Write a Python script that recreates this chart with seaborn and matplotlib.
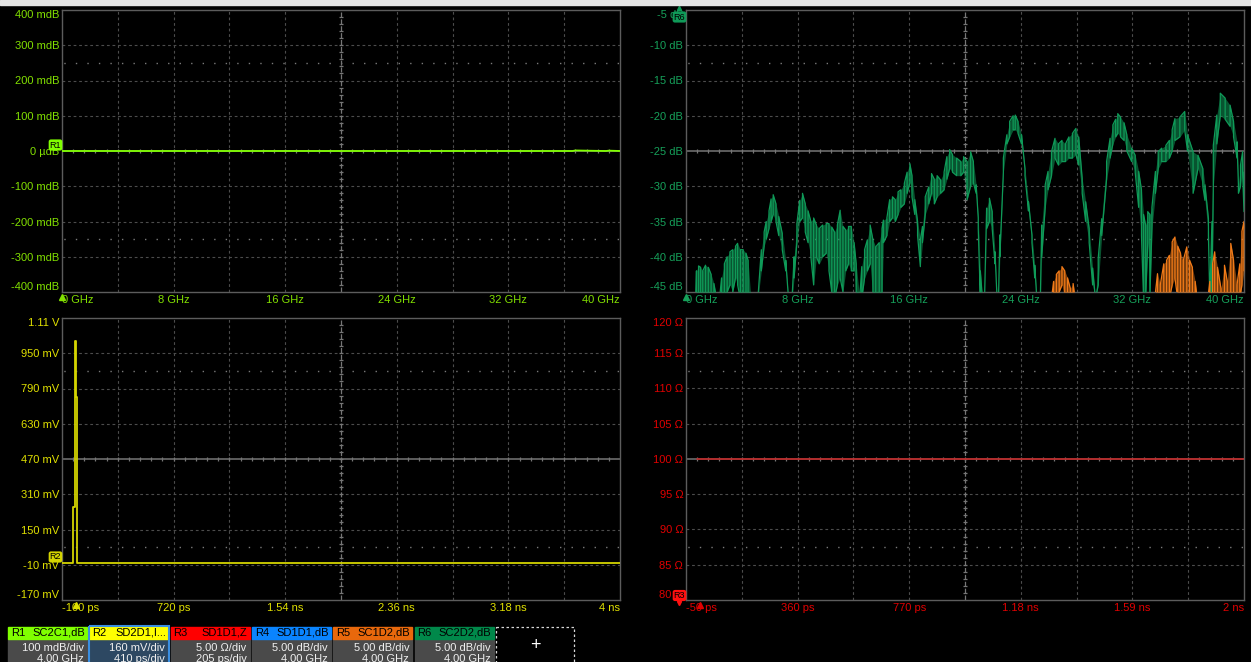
import numpy as np
import pandas as pd
import matplotlib
matplotlib.use("Agg")
import matplotlib.pyplot as plt
import seaborn as sns
from matplotlib import font_manager
from matplotlib.patches import Rectangle
from matplotlib.transforms import blended_transform_factory

# ---------------------------------------------------------------- data
# R1: SC2C1 (dB) vs frequency, GHz / mdB
r1_freq = [0.0, 10.0, 20.0, 30.0, 36.6, 36.8, 39.0, 39.2, 40.0]
r1_mdb = [0.0, 0.0, 0.0, 0.0, 0.0, 1.5, 0.0, 1.0, 0.0]

# R6: SC2D2 (dB) vs frequency -- per-column max / min of the acquired trace
r6_freq = [0.70, 0.75, 0.90, 1.05, 1.20, 1.40, 1.60, 1.80, 2.00, 2.20, 2.40, 2.55, 2.75, 2.95,
           3.15, 3.35, 3.55, 3.70, 3.90, 4.10, 4.30, 4.45, 4.65, 4.90, 5.15, 5.40, 5.60, 5.75,
           5.95, 6.10, 6.25, 6.45, 6.65, 6.90, 7.15, 7.35, 7.60, 7.75, 7.95, 8.15, 8.35, 8.55,
           8.75, 8.95, 9.15, 9.35, 9.55, 9.80, 10.05, 10.25, 10.45, 10.65, 10.85, 11.05, 11.25,
           11.45, 11.65, 11.85, 12.05, 12.20, 12.45, 12.60, 12.80, 13.00, 13.20, 13.40, 13.60,
           13.85, 14.05, 14.15, 14.40, 14.60, 14.80, 15.00, 15.20, 15.40, 15.65, 15.85, 16.05,
           16.20, 16.40, 16.60, 16.80, 16.95, 17.15, 17.40, 17.60, 17.80, 18.00, 18.25, 18.50,
           18.70, 18.90, 19.10, 19.40, 19.70, 19.90, 20.15, 20.40, 20.60, 20.80, 20.95, 21.10,
           21.25, 21.40, 21.55, 21.75, 21.95, 22.15, 22.30, 22.40, 22.50, 22.75, 23.00, 23.20,
           23.45, 23.60, 23.80, 24.05, 24.30, 24.55, 24.80, 25.00, 25.15, 25.40, 25.50, 25.75,
           25.95, 26.20, 26.45, 26.70, 26.95, 27.20, 27.45, 27.70, 27.95, 28.15, 28.40, 28.65,
           28.90, 29.15, 29.35, 29.55, 29.80, 30.15, 30.40, 30.60, 30.80, 30.95, 31.15, 31.40,
           31.60, 31.95, 32.20, 32.45, 32.65, 32.80, 32.95, 33.10, 33.25, 33.40, 33.65, 33.85,
           34.10, 34.40, 34.65, 34.85, 35.05, 35.40, 35.75, 35.95, 36.35, 36.70, 37.05, 37.20,
           37.45, 37.55, 37.70, 37.80, 38.05, 38.30, 38.65, 39.00, 39.25, 39.50, 39.60, 39.75,
           39.90, 40.00]
r6_hi = [-46, -42.0, -41.3, -41.5, -42.0, -41.2, -41.5, -42.5, -43.8, -46, -46, -43.0, -41.0, -40.0,
         -39.3, -39.0, -38.5, -38.1, -39.0, -39.0, -39.5, -40.5, -46, -46, -46, -39.0, -36.5, -35.0,
         -33.5, -31.8, -31.2, -32.5, -34.3, -36.7, -40.5, -46, -46, -40.0, -35.3, -32.0, -31.0, -32.5,
         -33.5, -35.0, -34.5, -35.5, -36.0, -35.5, -35.3, -35.3, -35.8, -36.5, -35.5, -33.4, -35.7,
         -36.2, -35.7, -35.7, -38.0, -41.0, -46, -41.4, -39.0, -37.6, -35.5, -37.6, -38.6,
         -38.0, -36.0, -34.8, -34.5, -31.9, -31.5, -31.9, -30.8, -30.5, -29.6, -28.0, -26.8,
         -28.5, -31.9, -35.0, -37.6, -35.7, -31.5, -30.1, -28.2, -29.0, -28.5, -29.1, -28.0,
         -25.8, -24.8, -25.5, -26.0, -26.5, -25.8, -26.5, -25.1, -26.5, -29.8, -34.5, -42.0,
         -46, -46, -33.1, -31.7, -33.6, -39.3, -46, -46, -36.9, -26.0, -22.7, -20.8,
         -20.0, -19.9, -20.8, -22.7, -27.5, -32.2, -36.9, -41.2, -46, -46, -35.5, -29.8,
         -27.9, -25.1, -23.2, -24.0, -23.5, -24.0, -23.0, -22.5, -21.8, -23.0, -28.9, -32.2,
         -36.0, -41.6, -46, -40.2, -34.6, -26.5, -23.2, -21.3, -20.5, -19.7, -20.2, -21.0,
         -22.7, -24.6, -25.6, -27.9, -30.5, -34.0, -35.5, -33.6, -34.0, -33.0, -27.9, -25.1,
         -24.6, -24.2, -23.5, -22.0, -20.4, -20.2, -19.4, -22.7, -25.1, -25.6, -27.5, -29.8,
         -34.6, -46, -35.0, -24.2, -19.9, -16.8, -17.5, -18.5, -20.8, -23.7, -29.8, -27.0,
         -25.1, -28.0]
r6_lo = [-46, -46, -45, -46, -45, -46, -45.5, -46, -46, -46, -46, -46, -46, -45,
         -44, -45, -43, -44, -46, -45, -46, -46, -46, -46, -46, -42, -38.5, -37.5,
         -36, -35, -34, -35, -37, -39, -42, -46, -46, -43, -38, -35, -34.5, -36.5,
         -38, -40, -44, -40, -41, -40, -39.5, -42, -45, -46, -44, -43, -45,
         -42, -41, -42, -42, -46, -46, -46, -43, -42, -41, -46, -46,
         -46, -46, -38, -37, -35, -34.5, -35, -34, -33, -32.5, -31, -29.5,
         -31.5, -34, -37, -41.4, -38, -34, -32.5, -31, -32.5, -31.5, -31, -30.5,
         -29, -27.5, -28, -28.5, -28.5, -28, -31.9, -30, -29.5, -31, -36, -46,
         -46, -46, -36, -35, -36, -41, -46, -46, -40, -28, -24, -23,
         -22, -22, -22.5, -24, -28.5, -33.5, -38, -43, -46, -46, -40, -33,
         -30.5, -28.5, -26, -27, -26.5, -26.5, -26, -26, -25.5, -27, -31, -35,
         -38, -44, -46, -44, -37, -29, -26, -24, -23, -22.5, -23, -23.5,
         -25, -26.5, -28, -33, -37, -46, -46, -38, -46, -36, -31, -27.5,
         -26.5, -26.5, -26, -25, -23.5, -23, -22, -25, -31, -27.5, -30, -32,
         -37, -46, -46, -30, -24, -20, -20.5, -21.5, -23, -26, -31, -30,
         -28, -33.6]

# R5: SC1D2 (dB) vs frequency, max / min per column (only where above -45 dB)
r5_freq = [26.20, 26.35, 26.55, 26.75, 26.95, 27.15, 27.35, 27.55, 27.75, 27.90,
           33.60, 33.80, 34.00, 34.25, 34.45, 34.65, 34.85, 35.05, 35.25, 35.45, 35.65,
           35.90, 36.10, 36.30, 36.50, 36.65, 37.40, 37.55, 37.75, 37.90, 38.10, 38.35,
           38.60, 38.80, 39.05, 39.25, 39.50, 39.70, 39.85, 40.00]
r5_hi = [-46, -43.5, -42.5, -42.0, -41.4, -42.0, -43.0, -44.5, -43.8, -46,
         -46, -42.4, -44.0, -41.0, -40.5, -39.8, -37.9, -37.2, -38.5, -39.5, -40.5,
         -38.6, -40.5, -41.5, -43.5, -46, -46, -43.5, -41.0, -39.3, -41.5, -44.5,
         -41.2, -43.5, -38.1, -40.5, -44.0, -41.0, -36.4, -35.0]
r5_lo = [-46, -46, -46, -45, -44, -46, -46, -46, -46, -46,
         -46, -46, -46, -46, -46, -46, -44, -43, -46, -45, -46,
         -46, -46, -46, -46, -46, -46, -46, -46, -46, -46, -46,
         -46, -46, -46, -46, -46, -46, -44, -42]

# R2: SD2D1 impulse (mV) vs time (ps)
r2_time = [-100, -17, -7, -2, 3, 8, 12, 4000]
r2_mv = [-2, 250, 750, 1005, 750, 250, -2, -2]

# R3: SD1D1 impedance (ohm) vs time (ps)
r3_time = [-10, 2000]
r3_ohm = [100.0, 100.0]

# axis labels
tl_xlabels = ["0 GHz", "8 GHz", "16 GHz", "24 GHz", "32 GHz", "40 GHz"]
tl_ylabels = ["-400 mdB", "-300 mdB", "-200 mdB", "-100 mdB", "0 µdB",
              "100 mdB", "200 mdB", "300 mdB", "400 mdB"]
tr_ylabels = ["-45 dB", "-40 dB", "-35 dB", "-30 dB", "-25 dB",
              "-20 dB", "-15 dB", "-10 dB", "-5 dB"]
bl_xlabels = ["-100 ps", "720 ps", "1.54 ns", "2.36 ns", "3.18 ns", "4 ns"]
bl_ylabels = ["-170 mV", "-10 mV", "150 mV", "310 mV", "470 mV",
              "630 mV", "790 mV", "950 mV", "1.11 V"]
br_xlabels = ["-50 ps", "360 ps", "770 ps", "1.18 ns", "1.59 ns", "2 ns"]
br_ylabels = ["80 Ω", "85 Ω", "90 Ω", "95 Ω", "100 Ω",
              "105 Ω", "110 Ω", "115 Ω", "120 Ω"]

# channel descriptor boxes
chan_ids = ["R1", "R2", "R3", "R4", "R5", "R6"]
chan_names = ["SC2C1,dB", "SD2D1,I...", "SD1D1,Z", "SD1D1,dB", "SC1D2,dB", "SC2D2,dB"]
chan_vscale = ["100 mdB/div", "160 mV/div", "5.00 Ω/div", "5.00 dB/div", "5.00 dB/div", "5.00 dB/div"]
chan_hscale = ["4.00 GHz", "410 ps/div", "205 ps/div", "4.00 GHz", "4.00 GHz", "4.00 GHz"]
chan_colors = ["#80ff00", "#ffff00", "#ff0000", "#0a84ff", "#e8680c", "#00884a"]

# ---------------------------------------------------------------- style
sns.set_theme(style="dark", rc={"axes.facecolor": "black", "figure.facecolor": "black",
                                "axes.grid": False})
_avail = {f.name for f in font_manager.fontManager.ttflist}
FONT = next(f for f in ["Liberation Sans Narrow", "DejaVu Sans Condensed",
                        "Liberation Sans", "DejaVu Sans"] if f in _avail)
plt.rcParams["font.family"] = [FONT, "DejaVu Sans"]

W, H = 1251, 662
GRID = "#4c4c4c"
CENTRE = "#767676"
SPINE = "#5c5c5c"

C_R1_TXT, C_R1 = "#82e000", "#80ff00"
C_R6_TXT, C_R6 = "#16a05a", "#0f9a58"
C_R5 = "#f07a18"
C_R2_TXT, C_R2 = "#e0e000", "#d4d400"
C_R3_TXT, C_R3 = "#e00000", "#c82020"

fig = plt.figure(figsize=(W / 100, H / 100), dpi=100, facecolor="black")


def panel(left, top, right, bottom):
    return fig.add_axes([left / W, 1 - bottom / H, (right - left) / W, (bottom - top) / H])


def setup(ax, xlim, ylim, xlabels, ylabels, tcolor):
    ax.set_facecolor("black")
    ax.set_xlim(*xlim)
    ax.set_ylim(*ylim)
    ax.set_autoscale_on(False)
    xdiv = np.linspace(xlim[0], xlim[1], 11)
    ydiv = np.linspace(ylim[0], ylim[1], 9)
    dash = (0, (2.5, 2.5))
    for i, xv in enumerate(xdiv[1:-1], start=1):
        if i != 5:
            ax.axvline(xv, color=GRID, lw=0.8, ls=dash, zorder=1)
    for j, yv in enumerate(ydiv[1:-1], start=1):
        if j != 4:
            ax.axhline(yv, color=GRID, lw=0.8, ls=dash, zorder=1)
    ystep = ydiv[1] - ydiv[0]
    for yv in (ylim[0] + 1.5 * ystep, ylim[1] - 1.5 * ystep):
        ax.axhline(yv, color="#7a7a7a", lw=1.0, ls=(7, (1, 7.3)), zorder=1)
    # centre cross with fifth-of-division ticks
    xc, yc = xdiv[5], ydiv[4]
    ax.axvline(xc, color=CENTRE, lw=0.9, ls=(0, (4, 1.5)), zorder=1.2)
    ax.axhline(yc, color=CENTRE, lw=1.1, zorder=1.2)
    xt = np.linspace(xlim[0], xlim[1], 51)[1:-1]
    yt = np.linspace(ylim[0], ylim[1], 41)[1:-1]
    hy = (ylim[1] - ylim[0]) * 2.2 / 282
    hx = (xlim[1] - xlim[0]) * 2.2 / 558
    ax.vlines(xt, yc - hy, yc + hy, color=CENTRE, lw=0.9, zorder=1.2)
    ax.hlines(yt, xc - hx, xc + hx, color=CENTRE, lw=0.9, zorder=1.2)
    for s in ax.spines.values():
        s.set_color(SPINE)
        s.set_linewidth(1.0)
        s.set_visible(True)
    ax.set_xticks(xdiv[::2])
    ax.set_xticklabels(xlabels)
    ax.set_yticks(ydiv)
    ax.set_yticklabels(ylabels)
    ax.tick_params(axis="both", which="both", length=0, labelsize=8,
                   labelcolor=tcolor, pad=2)
    xl = ax.get_xticklabels()
    xl[0].set_ha("left")
    xl[-1].set_ha("right")
    yl = ax.get_yticklabels()
    yl[0].set_va("bottom")
    yl[-1].set_va("top")


def trig(ax, color):
    tr = blended_transform_factory(ax.transData, ax.transAxes)
    ax.plot([0], [-0.018], transform=tr, marker="^", ms=5, color=color,
            clip_on=False, zorder=6)


def tag(ax, text, level, color, dy_px):
    ax.annotate(text, xy=(0, level), xycoords=("axes fraction", "data"),
                xytext=(-6.5 * 0.72, dy_px * 0.72), textcoords="offset points",
                ha="center", va="center", fontsize=6.5, color="black",
                bbox=dict(boxstyle="round,pad=0.12,rounding_size=0.25", fc=color, ec="none"),
                annotation_clip=False, zorder=8)


def envelope(freq, hi, lo):
    f = np.repeat(np.asarray(freq, float), 2)
    v = []
    for k, (h, l) in enumerate(zip(hi, lo)):
        v.extend([l, h] if k % 2 == 0 else [h, l])
    return pd.DataFrame({"x": f, "y": v})


# ---- top left: R1
ax_tl = panel(62, 10, 620, 292)
setup(ax_tl, (0, 40), (-400, 400), tl_xlabels, tl_ylabels, C_R1_TXT)
sns.lineplot(x=r1_freq, y=r1_mdb, ax=ax_tl, color=C_R1, lw=1.3, sort=False,
             estimator=None, zorder=4)
trig(ax_tl, C_R1_TXT)
tag(ax_tl, "R1", 0, C_R1, 6)

# ---- top right: R6 and R5 (min/max band plus the zig-zag trace)
ax_tr = panel(686, 10, 1244, 292)
setup(ax_tr, (0, 40), (-45, -5), tl_xlabels, tr_ylabels, C_R6_TXT)
ax_tr.fill_between(r6_freq, r6_lo, r6_hi, color=C_R6, alpha=0.55, lw=0, zorder=3)
sns.lineplot(data=envelope(r6_freq, r6_hi, r6_lo), x="x", y="y", ax=ax_tr, color=C_R6,
             lw=0.9, sort=False, estimator=None, zorder=4)
ax_tr.fill_between(r5_freq, r5_lo, r5_hi, color=C_R5, alpha=0.5, lw=0, zorder=3)
sns.lineplot(data=envelope(r5_freq, r5_hi, r5_lo), x="x", y="y", ax=ax_tr, color=C_R5,
             lw=0.9, sort=False, estimator=None, zorder=4)
trig(ax_tr, C_R6_TXT)
tag(ax_tr, "R6", -5, C_R6, -7)
tr6 = blended_transform_factory(ax_tr.transAxes, ax_tr.transAxes)
ax_tr.plot([-0.0125], [1.006], transform=tr6, marker="^", ms=3, color=C_R6,
           clip_on=False, zorder=8)

# ---- bottom left: R2
ax_bl = panel(62, 318, 620, 600)
setup(ax_bl, (-100, 4000), (-170, 1110), bl_xlabels, bl_ylabels, C_R2_TXT)
sns.lineplot(x=r2_time, y=r2_mv, ax=ax_bl, color=C_R2, lw=1.3, sort=False,
             estimator=None, drawstyle="steps-post", zorder=4)
trig(ax_bl, C_R2_TXT)
tag(ax_bl, "R2", -2, C_R2, 6)

# ---- bottom right: R3
ax_br = panel(686, 318, 1244, 600)
setup(ax_br, (-50, 2000), (80, 120), br_xlabels, br_ylabels, C_R3_TXT)
sns.lineplot(x=r3_time, y=r3_ohm, ax=ax_br, color=C_R3, lw=1.1, sort=False,
             estimator=None, zorder=4)
trig(ax_br, C_R3_TXT)
tag(ax_br, "R3", 80, "#ff1010", 4.5)
tr3 = blended_transform_factory(ax_br.transAxes, ax_br.transAxes)
ax_br.plot([-0.0125], [-0.012], transform=tr3, marker="v", ms=3, color="#ff1010",
           clip_on=False, zorder=8)

# no axis titles and no legends on the scope panes
for a in (ax_tl, ax_tr, ax_bl, ax_br):
    a.set_xlabel("")
    a.set_ylabel("")
    leg = a.get_legend()
    if leg is not None:
        leg.remove()

# ---- overlay: title strip and channel descriptor bar
ov = fig.add_axes([0, 0, 1, 1])
ov.set_xlim(0, W)
ov.set_ylim(H, 0)
ov.axis("off")
ov.patch.set_alpha(0)
ov.add_patch(Rectangle((0, 0), W, 4.5, color="#e4e4e4"))

box_w = 79
for k, (cid, name, vs, hs, col) in enumerate(zip(chan_ids, chan_names, chan_vscale,
                                                  chan_hscale, chan_colors)):
    x0 = 8 + k * 81.3
    body = "#2d4862" if k == 1 else "#4a4a4a"
    ov.add_patch(Rectangle((x0, 638.5), box_w, 24, color=body, zorder=2))
    ov.add_patch(Rectangle((x0, 626.5), box_w, 12, color=col, zorder=3))
    ov.text(x0 + 3, 632.8, cid, ha="left", va="center", fontsize=8, color="black", zorder=4)
    ov.text(x0 + box_w - 2, 632.8, name, ha="right", va="center", fontsize=8,
            color="black", zorder=4)
    ov.text(x0 + box_w - 3, 648, vs, ha="right", va="center", fontsize=8,
            color="#f0f0f0", zorder=4)
    ov.text(x0 + box_w - 3, 659, hs, ha="right", va="center", fontsize=8,
            color="#f0f0f0", zorder=4)
    if k == 1:
        ov.add_patch(Rectangle((x0 - 0.8, 625.5), box_w + 1.6, 38, fill=False,
                               ec="#3a8ee0", lw=1.5, zorder=5))

ov.add_patch(Rectangle((496, 626.5), 78, 37, fill=False, ec="#d8d8d8", lw=0.9,
                       ls=(0, (2, 2)), zorder=3))
ov.text(535, 646, "+", ha="center", va="center", fontsize=13, color="white", zorder=4)

fig.savefig("out.png", dpi=100, facecolor="black")
